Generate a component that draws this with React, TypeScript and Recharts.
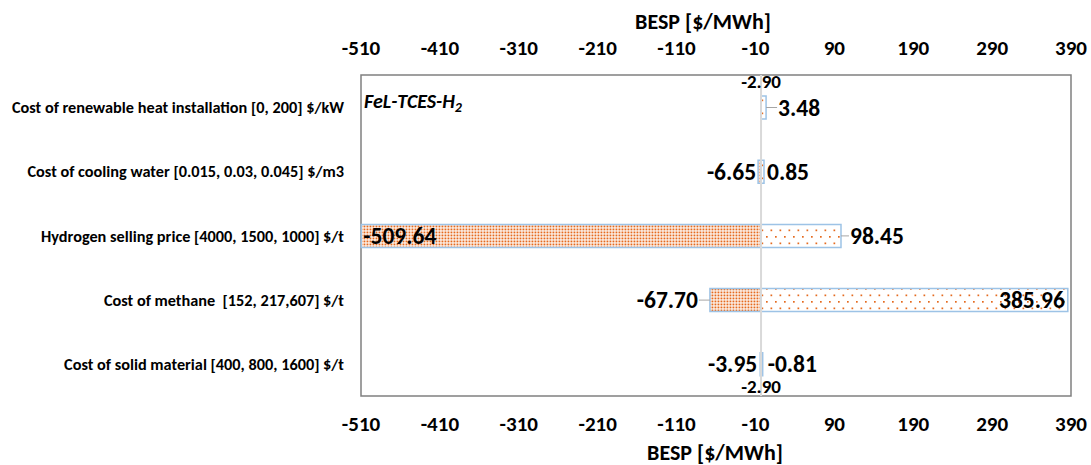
import {
  BarChart,
  Bar,
  XAxis,
  YAxis,
  ReferenceArea,
  ReferenceLine,
  LabelList,
} from "recharts";

const categories = [
  "Cost of renewable heat installation [0, 200] $/kW",
  "Cost of cooling water [0.015, 0.03, 0.045] $/m3",
  "Hydrogen selling price [4000, 1500, 1000] $/t",
  "Cost of methane  [152, 217,607] $/t",
  "Cost of solid material [400, 800, 1600] $/t",
];

const baseValue = -2.9;
const lowValues = [-2.9, -6.65, -509.64, -67.7, -3.95];
const highValues = [3.48, 0.85, 98.45, 385.96, -0.81];

const axisTicks = [-510, -410, -310, -210, -110, -10, 90, 190, 290, 390];

// label placement per row (styling only)
const LOW_POS = ["none", "left", "inside", "left", "left"];
const LOW_GAP = [0, 2, 2, 12, 3];
const HIGH_POS = ["right", "right", "right", "inside", "right"];
const HIGH_GAP = [12, 3, 9, 3, 5];
const BASE_NOTE = ["above", "", "", "", "below"];

const FONT = "Carlito, Calibri, Lato, sans-serif";
const ORANGE = "#E56A1E";
const BAR_STROKE = "#9DC3E6";

const rows = categories.map((name, i) => ({
  name,
  idx: i,
  low: [Math.min(baseValue, lowValues[i]), Math.max(baseValue, lowValues[i])],
  high: [Math.min(baseValue, highValues[i]), Math.max(baseValue, highValues[i])],
}));

const fmt = (v: number) => v.toFixed(2);
const bold = { fontFamily: FONT, fontWeight: 700, fill: "#000" };

function renderLabel(kind: "low" | "high") {
  return (props: any) => {
    const { x, y, width, height } = props;
    const index = Number(props.value);
    const left = Math.min(x, x + width);
    const right = Math.max(x, x + width);
    const cy = y + height / 2;
    const pos = kind === "low" ? LOW_POS[index] : HIGH_POS[index];
    const gap = kind === "low" ? LOW_GAP[index] : HIGH_GAP[index];
    const value = kind === "low" ? lowValues[index] : highValues[index];
    const text = fmt(value);
    const out: any[] = [];
    if (pos === "left") {
      if (gap > 6)
        out.push(<line key="l" x1={left} x2={left - gap + 1} y1={cy} y2={cy} stroke="#a6a6a6" />);
      out.push(
        <text key="t" x={left - gap} y={cy} textAnchor="end" dominantBaseline="central" fontSize={23.5} style={bold}>
          {text}
        </text>
      );
    } else if (pos === "right") {
      if (gap > 6)
        out.push(<line key="l" x1={right} x2={right + gap - 1} y1={cy} y2={cy} stroke="#a6a6a6" />);
      out.push(
        <text key="t" x={right + gap} y={cy} textAnchor="start" dominantBaseline="central" fontSize={23.5} style={bold}>
          {text}
        </text>
      );
    } else if (pos === "inside" && kind === "low") {
      out.push(
        <text key="t" x={left + gap} y={cy} textAnchor="start" dominantBaseline="central" fontSize={23.5} style={bold}>
          {text}
        </text>
      );
    } else if (pos === "inside") {
      out.push(
        <text key="t" x={right - gap} y={cy} textAnchor="end" dominantBaseline="central" fontSize={23.5} style={bold}>
          {text}
        </text>
      );
    }
    if (kind === "high" && BASE_NOTE[index]) {
      const ny = BASE_NOTE[index] === "above" ? y - 15 : y + height + 11;
      out.push(
        <text key="b" x={left} y={ny} textAnchor="middle" dominantBaseline="central" fontSize={19} style={bold}>
          {fmt(baseValue)}
        </text>
      );
    }
    return <g>{out}</g>;
  };
}

const TopTick = (props: any) => (
  <text x={props.x} y={55} textAnchor="middle" fontSize={21} style={bold}>
    {props.payload.value}
  </text>
);

const BottomTick = (props: any) => (
  <text x={props.x} y={431} textAnchor="middle" fontSize={21} style={bold}>
    {props.payload.value}
  </text>
);

const CategoryTick = (props: any) => (
  <text
    x={props.x}
    y={props.y}
    textAnchor="end"
    dominantBaseline="central"
    fontSize={16.3}
    style={{ ...bold, whiteSpace: "pre" }}
  >
    {props.payload.value}
  </text>
);

const FrameLabel = (props: any) => {
  const { x, y, width } = props.viewBox;
  return (
    <g>
      <text x={x + 3} y={y + 33} fontSize={20} fontStyle="italic" style={bold}>
        FeL-TCES-H
        <tspan fontSize={14} dy={4}>2</tspan>
      </text>
      <text x={x + width / 2 - 13} y={29} textAnchor="middle" fontSize={22} style={bold}>
        BESP [$/MWh]
      </text>
      <text x={x + width / 2 - 1} y={460} textAnchor="middle" fontSize={22} style={bold}>
        BESP [$/MWh]
      </text>
    </g>
  );
};

export default function App() {
  return (
    <div style={{ position: "absolute", left: 0, top: 0, background: "#fff" }}>
      <BarChart
        layout="vertical"
        width={1091}
        height={465}
        data={rows}
        margin={{ top: 0, right: 20, bottom: 0, left: 0 }}
      >
        <defs>
          <pattern id="dense" width="3" height="3" patternUnits="userSpaceOnUse">
            <rect width="3" height="3" fill="#fff" />
            <rect x="0.5" y="0.5" width="1.9" height="1.9" fill={ORANGE} />
          </pattern>
          <pattern id="sparse" width="9" height="13" patternUnits="userSpaceOnUse">
            <rect width="9" height="13" fill="#fff" />
            <rect x="1" y="2" width="1.7" height="1.7" fill={ORANGE} />
            <rect x="5.5" y="8.5" width="1.7" height="1.7" fill={ORANGE} />
          </pattern>
        </defs>
        <XAxis
          xAxisId="top"
          orientation="top"
          type="number"
          domain={[-510, 390]}
          ticks={axisTicks}
          height={75}
          axisLine={false}
          tickLine={false}
          tickSize={0}
          tickMargin={0}
          tick={<TopTick />}
          interval={0}
        />
        <XAxis
          xAxisId="bottom"
          orientation="bottom"
          type="number"
          domain={[-510, 390]}
          ticks={axisTicks}
          height={69}
          axisLine={false}
          tickLine={false}
          tickSize={0}
          tickMargin={0}
          tick={<BottomTick />}
          interval={0}
        />
        <YAxis
          yAxisId="a"
          type="category"
          dataKey="name"
          width={361}
          axisLine={false}
          tickLine={false}
          tickSize={0}
          tickMargin={17}
          tick={<CategoryTick />}
          interval={0}
        />
        <YAxis yAxisId="b" type="category" dataKey="name" hide />
        <ReferenceArea
          xAxisId="bottom"
          yAxisId="a"
          x1={-510}
          x2={390}
          fill="none"
          stroke="#808080"
          strokeWidth={1.5}
          ifOverflow="visible"
          label={<FrameLabel />}
        />
        <ReferenceLine xAxisId="bottom" yAxisId="a" x={baseValue} stroke="#d9d9d9" strokeWidth={2} />
        <Bar
          xAxisId="top"
          yAxisId="a"
          dataKey="low"
          barSize={23}
          fill="url(#dense)"
          stroke={BAR_STROKE}
          strokeWidth={1.5}
          isAnimationActive={false}
        >
          <LabelList dataKey="idx" content={renderLabel("low")} />
        </Bar>
        <Bar
          xAxisId="bottom"
          yAxisId="b"
          dataKey="high"
          barSize={23}
          fill="url(#sparse)"
          stroke={BAR_STROKE}
          strokeWidth={1.5}
          isAnimationActive={false}
        >
          <LabelList dataKey="idx" content={renderLabel("high")} />
        </Bar>
      </BarChart>
    </div>
  );
}
